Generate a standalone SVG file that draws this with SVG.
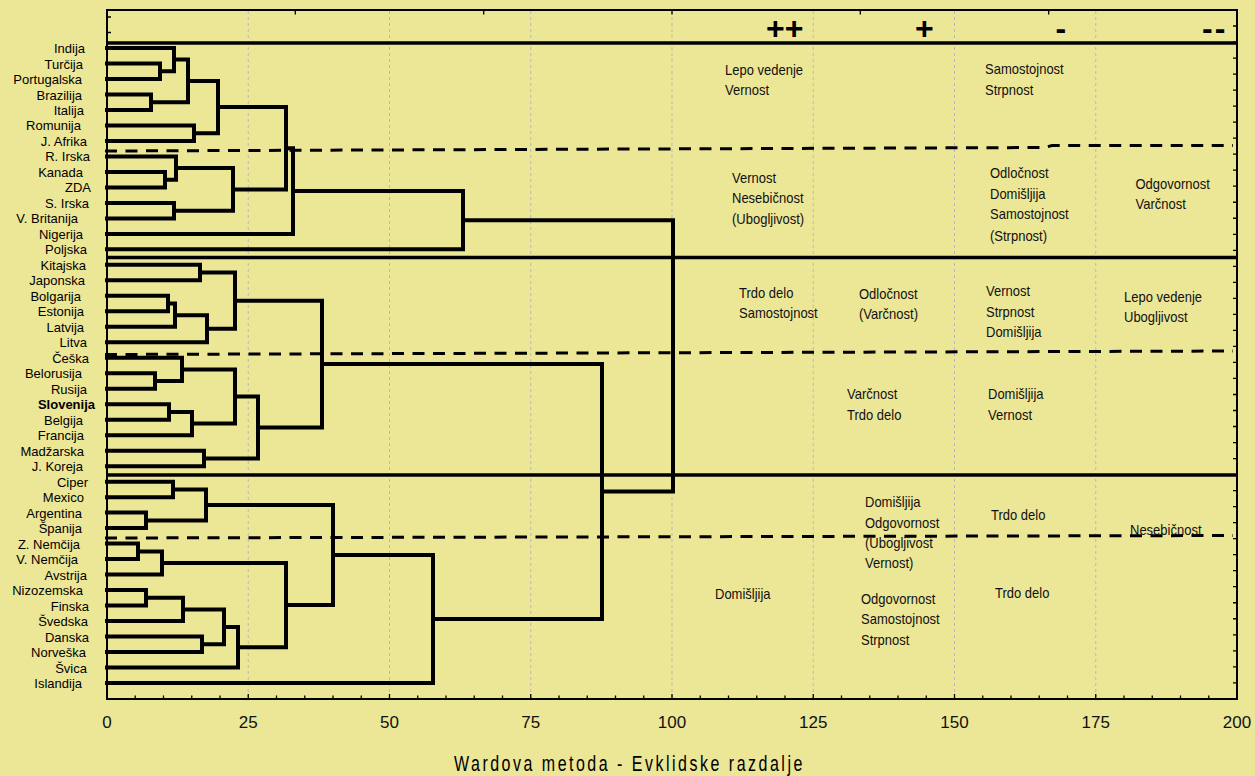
<svg xmlns="http://www.w3.org/2000/svg" width="1255" height="776" viewBox="0 0 1255 776">
<style>
text{font-family:'Liberation Sans',Arial,sans-serif;fill:#000}
.lbl{font-size:13px;text-anchor:end}
.blk{font-size:13px;fill:#111}
.num{font-size:17px;text-anchor:middle;fill:#111}
.sym{font-size:32px;font-weight:bold}
.den{fill:none;stroke:#000;stroke-width:4;stroke-linecap:square;stroke-linejoin:miter}
.sep{stroke:#000;stroke-width:3.5}
.dash{fill:none;stroke:#000;stroke-width:3;stroke-dasharray:12 8.5}
.grid{stroke:#b5b5cf;stroke-width:1;stroke-dasharray:3 3}
.tk{fill:none;stroke:#000;stroke-width:1.3}
</style>
<rect width="1255" height="776" fill="#ECE697"/>
<g id="grid">
<path class="grid" d="M248.25,11V698M389.5,11V698M530.75,11V698M672,11V698M813.25,11V698M954.5,11V698M1095.75,11V698"/>
</g>
<g id="axes">
<rect x="107" y="10" width="1130" height="689" fill="none" stroke="#000" stroke-width="2"/>
<path class="tk" d="M135.25,699v-3.5M163.5,699v-3.5M191.75,699v-3.5M220,699v-3.5M248.25,699v-5M276.5,699v-3.5M304.75,699v-3.5M333,699v-3.5M361.25,699v-3.5M389.5,699v-5M417.75,699v-3.5M446,699v-3.5M474.25,699v-3.5M502.5,699v-3.5M530.75,699v-5M559,699v-3.5M587.25,699v-3.5M615.5,699v-3.5M643.75,699v-3.5M672,699v-5M700.25,699v-3.5M728.5,699v-3.5M756.75,699v-3.5M785,699v-3.5M813.25,699v-5M841.5,699v-3.5M869.75,699v-3.5M898,699v-3.5M926.25,699v-3.5M954.5,699v-5M982.75,699v-3.5M1011,699v-3.5M1039.25,699v-3.5M1067.5,699v-3.5M1095.75,699v-5M1124,699v-3.5M1152.25,699v-3.5M1180.5,699v-3.5M1208.75,699v-3.5"/>
<path class="tk" d="M1237,26.02h-4M1237,42.04h-4M1237,58.06h-4M1237,74.08h-4M1237,90.1h-4M1237,106.12h-4M1237,122.14h-4M1237,138.16h-4M1237,154.18h-4M1237,170.2h-4M1237,186.22h-4M1237,202.24h-4M1237,218.26h-4M1237,234.28h-4M1237,250.3h-4M1237,266.32h-4M1237,282.34h-4M1237,298.36h-4M1237,314.38h-4M1237,330.4h-4M1237,346.42h-4M1237,362.44h-4M1237,378.46h-4M1237,394.48h-4M1237,410.5h-4M1237,426.52h-4M1237,442.54h-4M1237,458.56h-4M1237,474.58h-4M1237,490.6h-4M1237,506.62h-4M1237,522.64h-4M1237,538.66h-4M1237,554.68h-4M1237,570.7h-4M1237,586.72h-4M1237,602.74h-4M1237,618.76h-4M1237,634.78h-4M1237,650.8h-4M1237,666.82h-4M1237,682.84h-4"/>
<path class="tk" d="M295.3,10v4.5M483.7,10v4.5M672,10v4.5M860.3,10v4.5M1048.7,10v4.5M107,17h4M107,32.5h4"/>
<g id="xlabels">
<text class="num" x="107" y="728">0</text>
<text class="num" x="248.25" y="728">25</text>
<text class="num" x="389.5" y="728">50</text>
<text class="num" x="530.75" y="728">75</text>
<text class="num" x="672" y="728">100</text>
<text class="num" x="813.25" y="728">125</text>
<text class="num" x="954.5" y="728">150</text>
<text class="num" x="1095.75" y="728">175</text>
<text class="num" x="1237" y="728">200</text>
</g>
<text id="title" transform="translate(454,771) scale(1,1.33)" font-size="16" letter-spacing="2.5" fill="#1a1a1a">Wardova metoda - Evklidske razdalje</text>
</g>
<g id="symbols">
<text class="sym" x="766" y="38.8">++</text>
<text class="sym" x="915" y="38.8">+</text>
<text class="sym" x="1055.5" y="38.8">-</text>
<text class="sym" x="1202" y="38.8" letter-spacing="2">--</text>
</g>
<g id="separators">
<line class="sep" x1="107" y1="43" x2="1237" y2="43" stroke-width="4.5"/>
<line class="sep" x1="107" y1="257.5" x2="1237" y2="257.5"/>
<line class="sep" x1="107" y1="475" x2="1237" y2="475"/>
<path class="dash" d="M105,151 L1045,147.5 L1052,145.5 L1233,145.5"/>
<path class="dash" d="M105,354.5 L1233,351"/>
<path class="dash" d="M105,538 L1233,535.5"/>
</g>
<g id="connectors">
<path class="den" d="M107,63.5H160V79H107"/>
<path class="den" d="M107,48H174V71.25H160"/>
<path class="den" d="M107,94.5H151V110H107"/>
<path class="den" d="M174,59.6H188V102.25H151"/>
<path class="den" d="M107,125.4H194V140.9H107"/>
<path class="den" d="M188,80.9H218V133.2H194"/>
<path class="den" d="M107,171.9H165V187.4H107"/>
<path class="den" d="M107,156.4H176V179.7H165"/>
<path class="den" d="M107,202.9H174V218.4H107"/>
<path class="den" d="M176,168H233V210.7H174"/>
<path class="den" d="M218,107H286V189.4H233"/>
<path class="den" d="M286,148.2H293V233.9H107"/>
<path class="den" d="M293,191H463V249.3H107"/>
<path class="den" d="M107,264.8H200V280.3H107"/>
<path class="den" d="M107,295.8H168V311.3H107"/>
<path class="den" d="M168,303.6H175V326.8H107"/>
<path class="den" d="M175,315.2H207V342.3H107"/>
<path class="den" d="M200,272.6H235V328.7H207"/>
<path class="den" d="M107,373.2H155V388.7H107"/>
<path class="den" d="M107,357.8H182V381H155"/>
<path class="den" d="M107,404.2H169V419.7H107"/>
<path class="den" d="M169,412H192V435.2H107"/>
<path class="den" d="M182,369.4H235V423.6H192"/>
<path class="den" d="M107,450.7H204V466.2H107"/>
<path class="den" d="M235,396.5H258V458.5H204"/>
<path class="den" d="M235,300.7H322V427.5H258"/>
<path class="den" d="M107,481.7H173V497.2H107"/>
<path class="den" d="M107,512.6H146V528.1H107"/>
<path class="den" d="M173,489.4H206V520.4H146"/>
<path class="den" d="M107,543.6H138V559.1H107"/>
<path class="den" d="M138,551.4H162V574.6H107"/>
<path class="den" d="M107,590.1H146V605.6H107"/>
<path class="den" d="M146,597.8H183V621.1H107"/>
<path class="den" d="M107,636.5H202V652H107"/>
<path class="den" d="M183,609.5H224V644.3H202"/>
<path class="den" d="M224,626.9H238V667.5H107"/>
<path class="den" d="M162,563H286V647.2H238"/>
<path class="den" d="M206,504.9H333V605.1H286"/>
<path class="den" d="M333,555H433V683H107"/>
<path class="den" d="M322,364.1H602V619H433"/>
<path class="den" d="M463,220.2H673V491.6H602"/>
</g>
<g id="leaves">
<g id="n-indija"><text class="lbl" x="85" y="53">Indija</text></g>
<g id="n-turcija"><text class="lbl" x="83" y="68.5">Turčija</text></g>
<g id="n-portugalska"><text class="lbl" x="82" y="84">Portugalska</text></g>
<g id="n-brazilija"><text class="lbl" x="82" y="99.5">Brazilija</text></g>
<g id="n-italija"><text class="lbl" x="84" y="115">Italija</text></g>
<g id="n-romunija"><text class="lbl" x="81" y="130.4">Romunija</text></g>
<g id="n-jafrika"><text class="lbl" x="87" y="145.9">J. Afrika</text></g>
<g id="n-rirska"><text class="lbl" x="90" y="161.4">R. Irska</text></g>
<g id="n-kanada"><text class="lbl" x="83" y="176.9">Kanada</text></g>
<g id="n-zda"><text class="lbl" x="91" y="192.4">ZDA</text></g>
<g id="n-sirska"><text class="lbl" x="89" y="207.9">S. Irska</text></g>
<g id="n-vbritanija"><text class="lbl" x="78" y="223.4">V. Britanija</text></g>
<g id="n-nigerija"><text class="lbl" x="83" y="238.9">Nigerija</text></g>
<g id="n-poljska"><text class="lbl" x="87" y="254.3">Poljska</text></g>
<g id="n-kitajska"><text class="lbl" x="86" y="269.8">Kitajska</text></g>
<g id="n-japonska"><text class="lbl" x="85" y="285.3">Japonska</text></g>
<g id="n-bolgarija"><text class="lbl" x="81" y="300.8">Bolgarija</text></g>
<g id="n-estonija"><text class="lbl" x="84" y="316.3">Estonija</text></g>
<g id="n-latvija"><text class="lbl" x="84" y="331.8">Latvija</text></g>
<g id="n-litva"><text class="lbl" x="87" y="347.3">Litva</text></g>
<g id="n-ceska"><text class="lbl" x="89" y="362.8">Češka</text></g>
<g id="n-belorusija"><text class="lbl" x="82" y="378.2">Belorusija</text></g>
<g id="n-rusija"><text class="lbl" x="87" y="393.7">Rusija</text></g>
<g id="n-slovenija"><text class="lbl" x="95" y="409.2" font-weight="bold">Slovenija</text></g>
<g id="n-belgija"><text class="lbl" x="83" y="424.7">Belgija</text></g>
<g id="n-francija"><text class="lbl" x="84" y="440.2">Francija</text></g>
<g id="n-madzarska"><text class="lbl" x="84" y="455.7">Madžarska</text></g>
<g id="n-jkoreja"><text class="lbl" x="83" y="471.2">J. Koreja</text></g>
<g id="n-ciper"><text class="lbl" x="88" y="486.7">Ciper</text></g>
<g id="n-mexico"><text class="lbl" x="84" y="502.2">Mexico</text></g>
<g id="n-argentina"><text class="lbl" x="82" y="517.6">Argentina</text></g>
<g id="n-spanija"><text class="lbl" x="82" y="533.1">Španija</text></g>
<g id="n-znemcija"><text class="lbl" x="80" y="548.6">Z. Nemčija</text></g>
<g id="n-vnemcija"><text class="lbl" x="78" y="564.1">V. Nemčija</text></g>
<g id="n-avstrija"><text class="lbl" x="87" y="579.6">Avstrija</text></g>
<g id="n-nizozemska"><text class="lbl" x="83" y="595.1">Nizozemska</text></g>
<g id="n-finska"><text class="lbl" x="89" y="610.6">Finska</text></g>
<g id="n-svedska"><text class="lbl" x="88" y="626.1">Švedska</text></g>
<g id="n-danska"><text class="lbl" x="89" y="641.5">Danska</text></g>
<g id="n-norveska"><text class="lbl" x="86" y="657">Norveška</text></g>
<g id="n-svica"><text class="lbl" x="87" y="672.5">Švica</text></g>
<g id="n-islandija"><text class="lbl" x="82" y="688">Islandija</text></g>
</g>
<g id="blocks">
<g id="b1"><text class="blk" transform="translate(725,74.5) scale(1,1.15)"><tspan x="0" y="0">Lepo vedenje</tspan><tspan x="0" y="17.4">Vernost</tspan></text></g>
<g id="b2"><text class="blk" transform="translate(985,73.5) scale(1,1.15)"><tspan x="0" y="0">Samostojnost</tspan><tspan x="0" y="18.3">Strpnost</tspan></text></g>
<g id="b3"><text class="blk" transform="translate(732,182.5) scale(1,1.15)"><tspan x="0" y="0">Vernost</tspan><tspan x="0" y="17.4">Nesebičnost</tspan><tspan x="0" y="35.7">(Ubogljivost)</tspan></text></g>
<g id="b4"><text class="blk" transform="translate(990,177.5) scale(1,1.15)"><tspan x="0" y="0">Odločnost</tspan><tspan x="0" y="18.3">Domišljija</tspan><tspan x="0" y="35.7">Samostojnost</tspan><tspan x="0" y="54.8">(Strpnost)</tspan></text></g>
<g id="b5"><text class="blk" transform="translate(1135.5,188.5) scale(1,1.15)"><tspan x="0" y="0">Odgovornost</tspan><tspan x="0" y="17.4">Varčnost</tspan></text></g>
<g id="b6"><text class="blk" transform="translate(739,297.5) scale(1,1.15)"><tspan x="0" y="0">Trdo delo</tspan><tspan x="0" y="17.4">Samostojnost</tspan></text></g>
<g id="b7"><text class="blk" transform="translate(859,298.5) scale(1,1.15)"><tspan x="0" y="0">Odločnost</tspan><tspan x="0" y="17.8">(Varčnost)</tspan></text></g>
<g id="b8"><text class="blk" transform="translate(986,295.5) scale(1,1.15)"><tspan x="0" y="0">Vernost</tspan><tspan x="0" y="18.3">Strpnost</tspan><tspan x="0" y="36.5">Domišljija</tspan></text></g>
<g id="b9"><text class="blk" transform="translate(1124,301.5) scale(1,1.15)"><tspan x="0" y="0">Lepo vedenje</tspan><tspan x="0" y="17.4">Ubogljivost</tspan></text></g>
<g id="b10"><text class="blk" transform="translate(847,398.5) scale(1,1.15)"><tspan x="0" y="0">Varčnost</tspan><tspan x="0" y="18.3">Trdo delo</tspan></text></g>
<g id="b11"><text class="blk" transform="translate(988,398.5) scale(1,1.15)"><tspan x="0" y="0">Domišljija</tspan><tspan x="0" y="18.3">Vernost</tspan></text></g>
<g id="b12"><text class="blk" transform="translate(865,506.5) scale(1,1.15)"><tspan x="0" y="0">Domišljija</tspan><tspan x="0" y="18.3">Odgovornost</tspan><tspan x="0" y="35.7">(Ubogljivost</tspan><tspan x="0" y="53.9">Vernost)</tspan></text></g>
<g id="b13"><text class="blk" transform="translate(991,519.5) scale(1,1.15)">Trdo delo</text></g>
<g id="b14"><text class="blk" transform="translate(1130,534.5) scale(1,1.15)">Nesebičnost</text></g>
<g id="b15"><text class="blk" transform="translate(715,599.3) scale(1,1.15)">Domišljija</text></g>
<g id="b16"><text class="blk" transform="translate(861,603.5) scale(1,1.15)"><tspan x="0" y="0">Odgovornost</tspan><tspan x="0" y="17.4">Samostojnost</tspan><tspan x="0" y="35.7">Strpnost</tspan></text></g>
<g id="b17"><text class="blk" transform="translate(995,597.5) scale(1,1.15)">Trdo delo</text></g>
</g>
</svg>
